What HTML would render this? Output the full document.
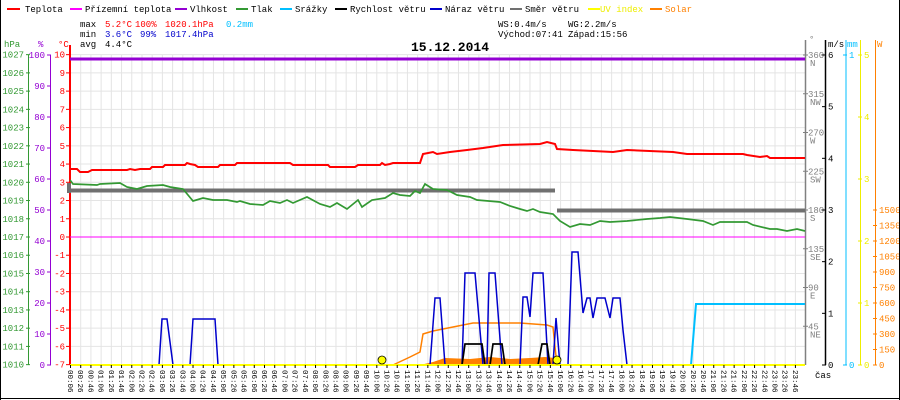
<!DOCTYPE html>
<html><head><meta charset="utf-8">
<style>
html,body{margin:0;padding:0;background:#fff;}
svg{display:block;font-family:"Liberation Mono",monospace;}
text{font-size:9px;}
</style></head>
<body>
<svg id="s" width="900" height="400" viewBox="0 0 900 400" xmlns="http://www.w3.org/2000/svg">
<rect x="0" y="0" width="900" height="400" fill="#fff"/>
<g id="grid"></g>
<g id="axes"></g>
<line x1="70" y1="59" x2="805" y2="59" stroke="#9400d3" stroke-width="3"/>
<line x1="70" y1="237" x2="805" y2="237" stroke="#ff00ff" stroke-width="1"/>
<rect x="67" y="183" width="4" height="10" fill="#707070"/>
<line x1="71" y1="190.5" x2="555" y2="190.5" stroke="#707070" stroke-width="4"/>
<line x1="557" y1="210.5" x2="805" y2="210.5" stroke="#707070" stroke-width="4"/>
<path d="M420,365 L433,362 L445,358 L470,359 L490,357 L510,359 L530,358 L545,357 L555,358 L557,365 Z" fill="#ff8000"/>
<polyline fill="none" stroke="#ff8000" stroke-width="1.5" points="393,365 410,357 420,352 423,334 433,331 453,327 473,323 487,323 520,323 547,325 553,327 555,347 557,365"/>
<polyline fill="none" stroke="#ff0000" stroke-width="2" points="70,169 77,169 80,172 88,172 92,170 127,170 130,169 135,170 140,169 150,169 152,167 163,167 165,165 185,165 187,163 190,164 195,165 198,167 218,167 220,165 235,165 237,163 290,163 293,165 328,165 330,167 355,167 358,165 380,165 382,163 385,165 390,164 393,163 420,163 423,154 433,152 437,154 450,152 467,150 483,148 503,145 540,144 547,142 555,144 557,149 573,150 613,152 627,150 673,152 687,154 743,154 747,155 760,157 767,156 770,158 805,158"/>
<polyline fill="none" stroke="#339933" stroke-width="1.7" points="70,180 73,184 97,185 100,184 120,183 127,187 137,189 147,186 163,185 170,187 183,189 193,201 203,198 213,200 227,200 237,202 240,201 250,204 263,205 270,201 280,203 287,200 293,203 307,197 320,204 330,207 337,203 347,209 358,200 362,207 372,200 385,198 393,193 400,195 410,196 415,191 420,193 425,184 433,189 447,190 457,195 470,197 477,200 500,202 510,206 520,209 527,211 533,209 540,212 553,214 560,221 570,227 580,224 590,225 600,221 610,222 627,221 647,219 660,218 670,217 687,219 703,221 713,225 720,222 747,222 753,225 770,229 777,229 787,231 797,229 805,231"/>
<g fill="none" stroke="#0000cc" stroke-width="1.5">
<polyline points="159,365 162,319 167,319 173,365"/>
<polyline points="190,365 193,319 215,319 218,365"/>
<polyline points="430,365 435,298 440,298 445,365"/>
<polyline points="462,365 465,273 475,273 483,365"/>
<polyline points="487,365 489,273 495,273 502,365"/>
<polyline points="520,365 523,297 527,297 530,317 533,273 543,273 548,365"/>
<polyline points="553,365 556,318 560,365"/>
<polyline points="568,365 572,252 578,252 583,313 587,298 590,298 593,318 597,298 605,298 610,318 613,298 620,298 623,330 627,365"/>
</g>
<g fill="none" stroke="#000" stroke-width="1.7">
<polyline points="462,365 465,344 482,344 485,365"/>
<polyline points="490,365 493,344 502,344 505,365"/>
<polyline points="538,365 542,344 547,344 550,365"/>
</g>
<polyline fill="none" stroke="#00bfff" stroke-width="2" points="691,365 696,304 805,304"/>
<line x1="70" y1="365" x2="805" y2="365" stroke="#ffff00" stroke-width="2"/>
<circle cx="382" cy="360" r="4" fill="#ffff00" stroke="#000" stroke-width="0.8"/>
<circle cx="557" cy="360" r="4" fill="#ffff00" stroke="#000" stroke-width="0.8"/>
<g id="tl"></g>
<g font-size="9">
<line x1="7" y1="9" x2="20" y2="9" stroke="#f00" stroke-width="2"/><text x="25" y="12">Teplota</text>
<line x1="70" y1="9" x2="82" y2="9" stroke="#f0f" stroke-width="2"/><text x="85" y="12">Přízemní teplota</text>
<line x1="175" y1="9" x2="187" y2="9" stroke="#9400d3" stroke-width="2"/><text x="190" y="12">Vlhkost</text>
<line x1="236" y1="9" x2="248" y2="9" stroke="#393" stroke-width="2"/><text x="251" y="12">Tlak</text>
<line x1="280" y1="9" x2="292" y2="9" stroke="#00bfff" stroke-width="2"/><text x="295" y="12">Srážky</text>
<line x1="335" y1="9" x2="347" y2="9" stroke="#000" stroke-width="2"/><text x="350" y="12">Rychlost větru</text>
<line x1="430" y1="9" x2="442" y2="9" stroke="#00c" stroke-width="2"/><text x="445" y="12">Náraz větru</text>
<line x1="510" y1="9" x2="522" y2="9" stroke="#707070" stroke-width="2"/><text x="525" y="12">Směr větru</text>
<line x1="588" y1="9" x2="600" y2="9" stroke="#ff0" stroke-width="2"/><text x="600" y="12" fill="#ee0">UV index</text>
<line x1="650" y1="9" x2="662" y2="9" stroke="#ff8000" stroke-width="2"/><text x="665" y="12" fill="#ff8000">Solar</text>
<text x="80" y="27">max</text><text x="105" y="27" fill="#f00">5.2°C</text><text x="135" y="27" fill="#f00">100%</text><text x="165" y="27" fill="#f00">1020.1hPa</text><text x="226" y="27" fill="#00bfff">0.2mm</text>
<text x="80" y="37">min</text><text x="105" y="37" fill="#00c">3.6°C</text><text x="140" y="37" fill="#00c">99%</text><text x="165" y="37" fill="#00c">1017.4hPa</text>
<text x="80" y="47">avg</text><text x="105" y="47">4.4°C</text>
<text x="498" y="27">WS:0.4m/s</text><text x="568" y="27">WG:2.2m/s</text>
<text x="498" y="37">Východ:07:41</text><text x="568" y="37">Západ:15:56</text>
</g>
<text x="450" y="51" text-anchor="middle" font-weight="bold" style="font-size:13px">15.12.2014</text>
<line x1="0.5" y1="0" x2="0.5" y2="400" stroke="#000"/>
<line x1="899.5" y1="0" x2="899.5" y2="400" stroke="#000"/>
<line x1="0" y1="398.5" x2="900" y2="398.5" stroke="#000"/>
<text x="815" y="378">čas</text>
</svg>
<script>
var NS="http://www.w3.org/2000/svg";
function el(p,n,a,t){var e=document.createElementNS(NS,n);for(var k in a)e.setAttribute(k,a[k]);if(t!=null)e.textContent=t;document.getElementById(p).appendChild(e);return e;}
for(var i=0;i<72;i++){var x=70.5+i*10.21;el("grid","line",{x1:x,y1:55,x2:x,y2:365,stroke:"#e4e4e4"});
 var m=6+i*20,h=Math.floor(m/60),mm=m%60;var s=(h<10?"0":"")+h+":"+(mm<10?"0":"")+mm;
 el("tl","line",{x1:x,y1:365,x2:x,y2:368,stroke:"#000"});
 var t=el("tl","text",{x:0,y:0,transform:"translate("+(x-2.5)+",370) rotate(90)"},s);t.style.fontSize="7.5px";}
for(var t=-7;t<=10;t++){var y=237-t*18.235;el("grid","line",{x1:70,y1:y,x2:805,y2:y,stroke:"#e4e4e4"});
 el("axes","line",{x1:66,y1:y,x2:70,y2:y,stroke:"#f00"});
 el("axes","text",{x:65,y:y+3,"text-anchor":"end",fill:"#f00"},""+t);
 el("axes","line",{x1:26,y1:y,x2:30,y2:y,stroke:"#393"});
 el("axes","text",{x:24,y:y+3,"text-anchor":"end",fill:"#393"},""+(1017+t));}
for(var p=0;p<=10;p++){var y=365-p*31;el("axes","line",{x1:47,y1:y,x2:51,y2:y,stroke:"#9400d3"});
 el("axes","text",{x:45,y:y+3,"text-anchor":"end",fill:"#9400d3"},""+p*10);}
el("axes","line",{x1:28.5,y1:55,x2:28.5,y2:365,stroke:"#393"});
el("axes","line",{x1:50.5,y1:55,x2:50.5,y2:365,stroke:"#9400d3"});
el("axes","line",{x1:70,y1:45,x2:70,y2:365,stroke:"#f00","stroke-width":2});
el("axes","text",{x:4,y:47,fill:"#393"},"hPa");el("axes","text",{x:38,y:47,fill:"#9400d3"},"%");el("axes","text",{x:58,y:47,fill:"#f00"},"°C");
el("axes","line",{x1:805.5,y1:40,x2:805.5,y2:365,stroke:"#808080","stroke-width":1.5});
var cmp=["","NE","E","SE","S","SW","W","NW","N"];
for(var d=1;d<=8;d++){var y=365-d*38.75;el("axes","line",{x1:803,y1:y,x2:808,y2:y,stroke:"#808080"});
 el("axes","text",{x:808,y:y+3,fill:"#808080"},""+d*45);el("axes","text",{x:810,y:y+11,fill:"#808080"},cmp[d]);}
el("axes","text",{x:809,y:42,fill:"#808080"},"°");
el("axes","line",{x1:825.5,y1:40,x2:825.5,y2:365,stroke:"#000","stroke-width":1.5});
for(var v=0;v<=6;v++){var y=365-v*51.67;el("axes","line",{x1:822,y1:y,x2:826,y2:y,stroke:"#000"});el("axes","text",{x:828,y:y+3},""+v);}
el("axes","text",{x:828,y:47},"m/s");
el("axes","line",{x1:846,y1:40,x2:846,y2:365,stroke:"#00bfff"});
[0,1].forEach(function(v){var y=365-v*310;el("axes","line",{x1:843,y1:y,x2:847,y2:y,stroke:"#00bfff"});el("axes","text",{x:849,y:y+3,fill:"#00bfff"},""+v);});
el("axes","text",{x:847,y:47,fill:"#00bfff"},"mm");
el("axes","line",{x1:860.5,y1:40,x2:860.5,y2:365,stroke:"#ee0"});
for(var v=0;v<=5;v++){var y=365-v*62;el("axes","line",{x1:858,y1:y,x2:862,y2:y,stroke:"#ee0"});el("axes","text",{x:864,y:y+3,fill:"#ee0"},""+v);}
el("axes","line",{x1:875.5,y1:40,x2:875.5,y2:365,stroke:"#ff8000"});
for(var v=0;v<=10;v++){var y=365-v*15.5;el("axes","line",{x1:873,y1:y,x2:877,y2:y,stroke:"#ff8000"});el("axes","text",{x:879,y:y+3,fill:"#ff8000"},""+v*150);}
el("axes","text",{x:877,y:47,fill:"#ff8000"},"W");
</script>
</body></html>
